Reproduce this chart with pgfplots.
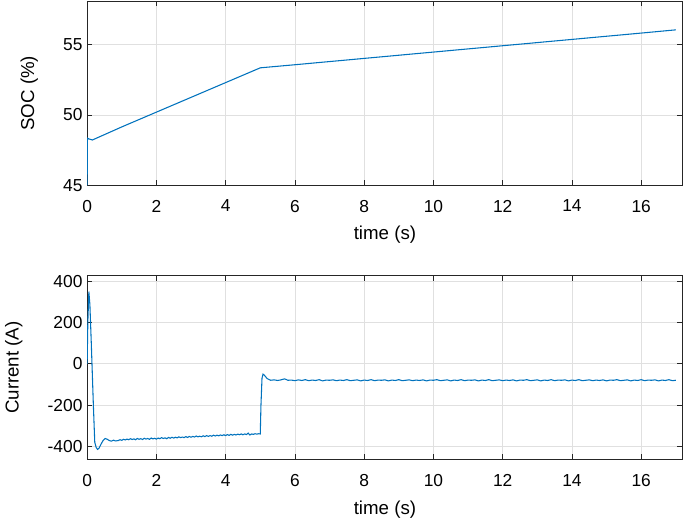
\documentclass[border=0pt]{standalone}
\usepackage{pgfplots}
\pgfplotsset{compat=1.18}
\usepackage{fontspec}
\setmainfont{Liberation Sans}
\definecolor{mblue}{rgb}{0,0.447,0.741}
\definecolor{maxis}{rgb}{0.15,0.15,0.15}
\definecolor{mgrid}{rgb}{0.88,0.88,0.88}

\begin{document}
\begin{tikzpicture}
\pgfplotsset{
  mstyle/.style={
    scale only axis,
    width=446pt, height=138pt,
    xmin=0, xmax=17.2,
    xtick={0,2,...,16},
    xlabel={time (s)},
    grid=major,
    grid style={mgrid, line width=0.6pt},
    axis line style={maxis, line width=0.7pt},
    tick style={maxis, line width=0.6pt},
    tick align=inside,
    major tick length=4pt,
    ticklabel style={font=\fontsize{13}{15}\selectfont, text=black},
    label style={font=\fontsize{14}{16}\selectfont, text=black},
    xticklabel shift=7.5pt,
    xlabel shift=3.5pt,
    ylabel shift=12pt,
    /pgf/number format/assume math mode=true,
  },
}

% SOC panel
\begin{axis}[mstyle, at={(0,0)}, anchor=south west,
  ymin=45, ymax=58.1, ytick={45,50,55},
  ylabel={SOC (\%)}]
\addplot[mblue, line width=0.8pt] coordinates {
  (0,45) (0.01,48.35) (0.05,48.3) (0.15,48.22) (1,49.15) (2,50.2) (3,51.25)
  (4,52.3) (5,53.35) (6,53.57) (8,54.02) (10,54.47) (12,54.92) (14,55.37)
  (16,55.82) (17,56.05)
};
\end{axis}

% Current panel
\begin{axis}[mstyle, at={(0,-67.5pt)}, anchor=north west,
  ymin=-465, ymax=428, ytick={-400,-200,0,200,400},
  ylabel={Current (A)}]
\addplot[mblue, line width=0.8pt] coordinates {
  (0,0) (0.02,200) (0.05,350) (0.08,285) (0.12,100) (0.18,-200) (0.22,-380)
  (0.26,-405) (0.3,-415) (0.34,-410) (0.4,-390) (0.46,-372) (0.52,-362)
  (0.58,-366) (0.64,-372) (0.7,-375) (0.76,-370) (0.82,-374) (0.9,-372)
  (0.95,-368) (1.0,-371) (1.05,-366) (1.1,-369) (1.15,-365) (1.2,-368)
  (1.25,-363) (1.3,-367) (1.35,-364) (1.4,-368) (1.45,-362) (1.5,-366)
  (1.55,-363) (1.6,-367) (1.65,-361) (1.7,-365) (1.75,-362) (1.8,-366)
  (1.85,-360) (1.9,-364) (1.95,-361) (2.0,-365) (2.05,-360) (2.1,-363)
  (2.15,-358) (2.2,-362) (2.25,-359) (2.3,-363) (2.35,-357) (2.4,-361)
  (2.45,-356) (2.5,-360) (2.55,-356) (2.6,-359) (2.65,-354) (2.7,-358)
  (2.75,-355) (2.8,-358) (2.85,-353) (2.9,-357) (2.95,-352) (3.0,-356)
  (3.05,-352) (3.1,-355) (3.15,-350) (3.2,-354) (3.25,-351) (3.3,-354)
  (3.35,-349) (3.4,-353) (3.45,-348) (3.5,-352) (3.55,-348) (3.6,-351)
  (3.65,-346) (3.7,-350) (3.75,-346) (3.8,-349) (3.85,-345) (3.9,-348)
  (3.95,-344) (4.0,-348) (4.05,-343) (4.1,-347) (4.15,-342) (4.2,-346)
  (4.25,-342) (4.3,-345) (4.35,-341) (4.4,-344) (4.45,-340) (4.5,-344)
  (4.55,-340) (4.6,-343) (4.65,-336) (4.7,-345) (4.75,-340) (4.8,-342)
  (4.85,-339) (4.9,-341) (4.95,-339) (5.0,-340) (5.02,-200) (5.05,-70)
  (5.08,-50) (5.12,-56) (5.2,-72) (5.3,-80) (5.4,-78) (5.5,-81) (5.6,-78)
  (5.7,-73) (5.8,-80) (5.9,-79) (6.0,-82) (6.1,-78) (6.2,-81) (6.3,-77)
  (6.4,-82) (6.5,-79) (6.6,-81) (6.7,-77) (6.8,-83) (6.9,-79) (7.0,-80)
  (7.1,-78) (7.2,-82) (7.3,-79) (7.4,-81) (7.5,-77) (7.6,-82) (7.7,-80)
  (7.8,-78) (7.9,-83) (8.0,-79) (8.1,-81) (8.2,-77) (8.3,-82) (8.4,-79)
  (8.5,-80) (8.6,-78) (8.7,-83) (8.8,-79) (8.9,-81) (9.0,-77) (9.1,-82)
  (9.2,-80) (9.3,-78) (9.4,-82) (9.5,-79) (9.6,-81) (9.7,-78) (9.8,-83)
  (9.9,-79) (10.0,-80) (10.1,-77) (10.2,-82) (10.3,-80) (10.4,-78)
  (10.5,-83) (10.6,-79) (10.7,-81) (10.8,-77) (10.9,-82) (11.0,-79)
  (11.1,-80) (11.2,-78) (11.3,-83) (11.4,-79) (11.5,-81) (11.6,-77)
  (11.7,-82) (11.8,-80) (11.9,-78) (12.0,-82) (12.1,-79) (12.2,-81)
  (12.3,-78) (12.4,-83) (12.5,-79) (12.6,-80) (12.7,-77) (12.8,-82)
  (12.9,-80) (13.0,-78) (13.1,-83) (13.2,-79) (13.3,-81) (13.4,-77)
  (13.5,-82) (13.6,-79) (13.7,-80) (13.8,-78) (13.9,-83) (14.0,-79)
  (14.1,-81) (14.2,-77) (14.3,-82) (14.4,-80) (14.5,-78) (14.6,-82)
  (14.7,-79) (14.8,-81) (14.9,-78) (15.0,-83) (15.1,-79) (15.2,-80)
  (15.3,-77) (15.4,-82) (15.5,-80) (15.6,-78) (15.7,-83) (15.8,-79)
  (15.9,-81) (16.0,-77) (16.1,-82) (16.2,-79) (16.3,-80) (16.4,-78)
  (16.5,-83) (16.6,-79) (16.7,-81) (16.8,-77) (16.9,-82) (17.0,-80)
};
\end{axis}
\pgfresetboundingbox
\useasboundingbox (-65.25pt,-250.5pt) rectangle (447.7pt,138.75pt);
\end{tikzpicture}
\end{document}
